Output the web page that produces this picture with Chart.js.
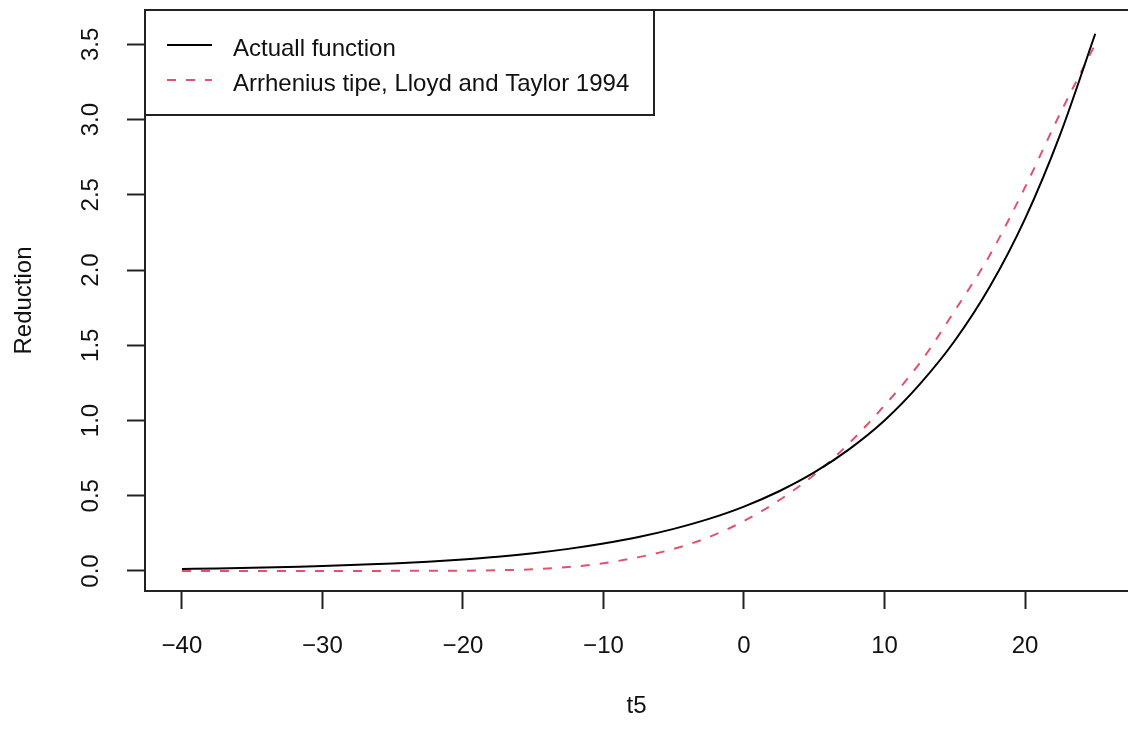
<!DOCTYPE html>
<html lang="en">
<head>
<meta charset="UTF-8">
<title>Reduction vs t5</title>
<script src="https://cdn.jsdelivr.net/npm/chart.js@4.4.0/dist/chart.umd.min.js"></script>
<style>
  * { margin: 0; padding: 0; }
  body { background: #fff; width: 1128px; height: 729px; overflow: hidden; }
</style>
</head>
<body>
<canvas id="chart" width="1128" height="729"></canvas>
<script>
// values
const t5 = [-40, -37.5, -35, -32.5, -30, -27.5, -25, -22.5, -20, -17.5, -15, -12.5, -10,
  -7.5, -5, -2.5, 0, 2.5, 5, 7.5, 10, 12.5, 15, 17.5, 20, 22.5, 25];
const actual = [0.014, 0.017, 0.021, 0.027, 0.033, 0.041, 0.050, 0.062, 0.077, 0.095, 0.118, 0.147, 0.183,
  0.226, 0.280, 0.346, 0.428, 0.530, 0.655, 0.810, 1.000, 1.240, 1.530, 1.890, 2.340, 2.900, 3.570];
const arrhenius = [0.000, 0.000, 0.000, 0.000, 0.000, 0.000, 0.001, 0.001, 0.002, 0.005, 0.011, 0.026, 0.052,
  0.092, 0.147, 0.225, 0.332, 0.470, 0.640, 0.850, 1.100, 1.380, 1.730, 2.100, 2.550, 3.040, 3.500];
const seriesLabels = ['Actuall function', 'Arrhenius tipe, Lloyd and Taylor 1994'];
const xTicks = [-40, -30, -20, -10, 0, 10, 20];
const xTickLabels = ['\u221240', '\u221230', '\u221220', '\u221210', '0', '10', '20'];
const yTicks = [0, 0.5, 1, 1.5, 2, 2.5, 3, 3.5];
const yTickLabels = ['0.0', '0.5', '1.0', '1.5', '2.0', '2.5', '3.0', '3.5'];

Chart.defaults.font.family = "'Liberation Sans', Arial, sans-serif";
Chart.defaults.font.size = 24;
Chart.defaults.color = '#111';

// R-style box around the plot plus the boxed legend in the top-left corner
const rFrame = {
  id: 'rFrame',
  afterDatasetsDraw(chart) {
    const { ctx, chartArea: a } = chart;
    ctx.save();
    ctx.strokeStyle = '#222';
    ctx.lineWidth = 2;
    ctx.beginPath();
    ctx.moveTo(a.right + 5, a.top);
    ctx.lineTo(a.left, a.top);
    ctx.lineTo(a.left, a.bottom);
    ctx.lineTo(a.right + 5, a.bottom);
    ctx.stroke();

    // legend
    ctx.fillStyle = '#fff';
    ctx.fillRect(a.left, a.top, 509, 105);
    ctx.strokeRect(a.left, a.top, 509, 105);
    const rows = [35, 70];
    chart.data.datasets.forEach((ds, i) => {
      const y = a.top + rows[i];
      ctx.beginPath();
      ctx.strokeStyle = ds.borderColor;
      ctx.lineWidth = ds.borderWidth;
      ctx.setLineDash(ds.borderDash || []);
      ctx.moveTo(a.left + 22, y);
      ctx.lineTo(a.left + 67, y);
      ctx.stroke();
      ctx.setLineDash([]);
      ctx.fillStyle = '#111';
      ctx.font = "24px 'Liberation Sans', Arial, sans-serif";
      ctx.textBaseline = 'alphabetic';
      ctx.fillText(ds.label, a.left + 88, y + 11);
    });
    ctx.restore();
  }
};

new Chart(document.getElementById('chart'), {
  type: 'line',
  data: {
    datasets: [
      {
        label: seriesLabels[0],
        data: t5.map((x, i) => ({ x, y: actual[i] })),
        borderColor: '#000',
        borderWidth: 2,
        pointRadius: 0,
        cubicInterpolationMode: 'monotone'
      },
      {
        label: seriesLabels[1],
        data: t5.map((x, i) => ({ x, y: arrhenius[i] })),
        borderColor: '#DF536B',
        borderWidth: 2,
        borderDash: [9, 10],
        pointRadius: 0,
        cubicInterpolationMode: 'monotone'
      }
    ]
  },
  options: {
    responsive: false,
    animation: false,
    layout: { padding: { top: 10, left: 0, right: 0, bottom: 0 } },
    plugins: { legend: { display: false }, tooltip: { enabled: false } },
    scales: {
      x: {
        type: 'linear',
        min: -42.63,
        max: 27.33,
        afterBuildTicks: s => { s.ticks = xTicks.map(v => ({ value: v })); },
        afterFit: s => { s.height = 138; s.paddingLeft = 0; s.paddingRight = 0; },
        grid: { drawOnChartArea: false, drawTicks: true, tickLength: 18, tickColor: '#222', tickWidth: 2 },
        border: { display: false },
        ticks: { padding: 23, maxRotation: 0, callback: (v, i) => xTickLabels[i] },
        title: { display: true, text: 't5', padding: { top: 0, bottom: 8 } }
      },
      y: {
        type: 'linear',
        min: -0.133,
        max: 3.728,
        afterBuildTicks: s => { s.ticks = yTicks.map(v => ({ value: v })); },
        afterFit: s => { s.width = 145; s.paddingTop = 0; s.paddingBottom = 0; },
        grid: { drawOnChartArea: false, drawTicks: true, tickLength: 18, tickColor: '#222', tickWidth: 2 },
        border: { display: false },
        ticks: { minRotation: 90, maxRotation: 90, crossAlign: 'center', padding: 19, callback: (v, i) => yTickLabels[i] },
        title: { display: true, text: 'Reduction', padding: { top: 10, bottom: 0 } }
      }
    }
  },
  plugins: [rFrame]
});
</script>
</body>
</html>
